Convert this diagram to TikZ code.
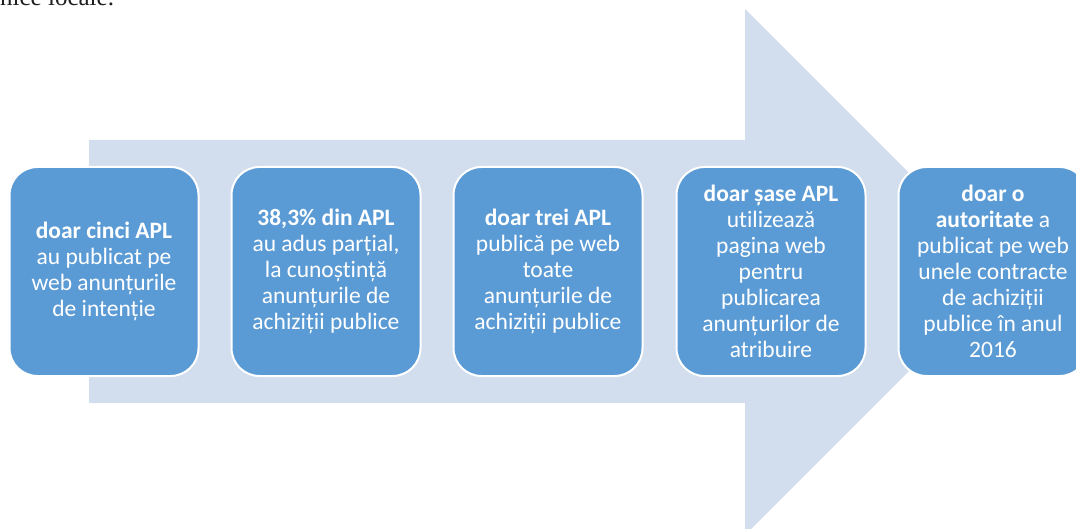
\documentclass[tikz,border=0pt]{standalone}
\usepackage{fontspec}
\setmainfont{Carlito}[Ligatures={NoCommon}]
\newfontfamily\serifdoc{Liberation Serif}
\definecolor{arrowfill}{RGB}{210,222,238}
\definecolor{boxfill}{RGB}{91,155,213}
\definecolor{doctext}{RGB}{30,30,30}
\begin{document}
\begin{tikzpicture}[x=1pt,y=-1pt,
  stagebox/.style={draw=white, line width=2pt, fill=boxfill, rounded corners=28pt,
    minimum width=189pt, minimum height=209pt, text=white, align=center,
    font=\fontsize{23.5}{26}\selectfont, inner sep=0pt}]
\useasboundingbox (0,0) rectangle (1076,529);
\clip (0,0) rectangle (1076,529);
\fill[arrowfill] (89,140) -- (745,140) -- (745,9) -- (1008,272) -- (745,535) -- (745,403) -- (89,403) -- cycle;
\node[anchor=base west, text=doctext, font=\serifdoc\fontsize{25}{30}\selectfont, inner sep=0pt] (toptext) at (0,6) {nice locale.};
\node[stagebox] (s1) at (104,271.5) {\textbf{doar cinci APL}\\au publicat pe\\web anunțurile\\de intenție};
\node[stagebox] (s2) at (326,271.5) {\textbf{38,3\% din APL}\\au adus parțial,\\la cunoștință\\anunțurile de\\achiziții publice};
\node[stagebox] (s3) at (548,271.5) {\textbf{doar trei APL}\\publică pe web\\toate\\anunțurile de\\achiziții publice};
\node[stagebox] (s4) at (771,271.5) {\textbf{doar șase APL}\\utilizează\\pagina web\\pentru\\publicarea\\anunțurilor de\\atribuire};
\node[stagebox] (s5) at (993,271.5) {\textbf{doar o}\\\textbf{autoritate} a\\publicat pe web\\unele contracte\\de achiziții\\publice în anul\\2016};
\end{tikzpicture}
\end{document}
